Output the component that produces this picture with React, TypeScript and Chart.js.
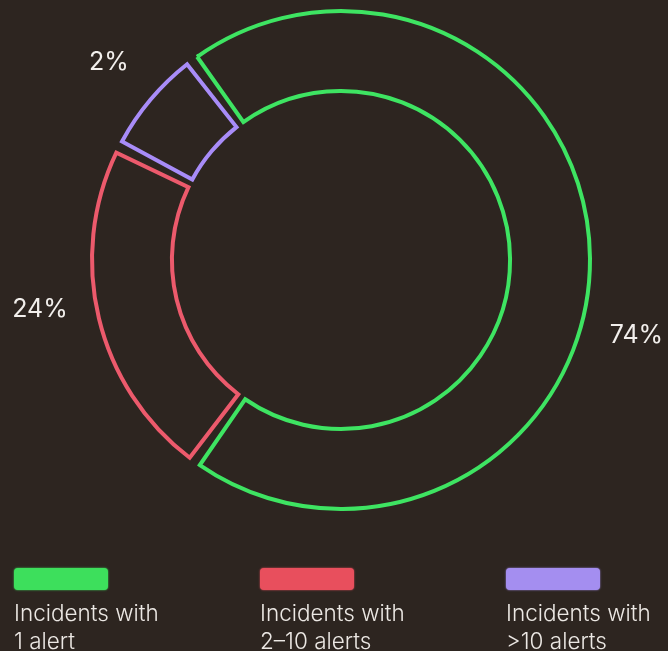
import React, { useEffect, useRef } from "react";
import { Chart, registerables } from "chart.js";

Chart.register(...registerables);

// Categories / legend text
const categories = ["Incidents with 1 alert", "Incidents with 2–10 alerts", "Incidents with >10 alerts"];
const legendFirstLines = ["Incidents with", "Incidents with", "Incidents with"];
const legendSecondLines = ["1 alert", "2–10 alerts", ">10 alerts"];

// Percent values printed in the chart
const percentValues = [74, 24, 2];
// Arc shares as drawn in the picture (the artwork is not drawn to scale)
const arcShares = [69.4, 21.7, 6.5];
// Empty share drawn after each arc (the gap between segments)
const gapShare = 0.8;

const lineColors = ["#3ee462", "#ec5a6c", "#a88cf8"];
const swatchColors = ["#3ddf5c", "#e84f5d", "#a48ef0"];
const labelAngleShift = [14.8, 4.2, 0.3];

const FONT = "Inter, 'Open Sans', 'Noto Sans', sans-serif";
const CLEAR = "rgba(0,0,0,0)";

const chartData: number[] = [];
const chartBorders: string[] = [];
const chartBorderWidths: number[] = [];
arcShares.forEach((v, i) => {
  chartData.push(v, gapShare);
  chartBorders.push(lineColors[i], CLEAR);
  chartBorderWidths.push(4, 0);
});

const labelPlugin = {
  id: "pctLabels",
  afterDatasetsDraw(chart: any) {
    const meta = chart.getDatasetMeta(0);
    const ctx = chart.ctx;
    ctx.save();
    ctx.fillStyle = "#f2efec";
    ctx.font = `400 25px ${FONT}`;
    ctx.textAlign = "center";
    ctx.textBaseline = "middle";
    percentValues.forEach((v, i) => {
      const arc = meta.data[i * 2];
      const p = arc.getProps(["x", "y", "startAngle", "endAngle", "outerRadius"], true);
      const mid = (p.startAngle + p.endAngle) / 2 + (labelAngleShift[i] * Math.PI) / 180;
      const r = p.outerRadius + 56;
      ctx.fillText(`${v}%`, p.x + Math.cos(mid) * r, p.y + Math.sin(mid) * r);
    });
    ctx.restore();
  },
};

export default function App() {
  const ref = useRef<HTMLCanvasElement | null>(null);

  useEffect(() => {
    if (!ref.current) return;
    const chart = new Chart(ref.current, {
      type: "doughnut",
      data: {
        labels: chartData.map((_, i) => (i % 2 === 0 ? categories[i / 2] : "")),
        datasets: [
          {
            data: chartData,
            backgroundColor: CLEAR,
            borderColor: chartBorders,
            borderWidth: chartBorderWidths,
            borderJoinStyle: "miter",
            radius: 249,
            cutout: "67.9%",
            hoverOffset: 0,
          } as any,
        ],
      },
      options: {
        responsive: false,
        animation: false,
        rotation: -35.3,
        layout: { padding: { left: 14, right: 0, top: 0, bottom: 131 } },
        plugins: {
          legend: { display: false },
          tooltip: { enabled: false },
        },
        events: [],
      } as any,
      plugins: [labelPlugin],
    });
    return () => chart.destroy();
  }, []);

  return (
    <div
      style={{
        position: "fixed",
        left: 0,
        top: 0,
        width: 668,
        height: 651,
        background: "#2d2520",
        overflow: "hidden",
        fontFamily: FONT,
      }}
    >
      <canvas ref={ref} width={668} height={651} style={{ position: "absolute", left: 0, top: 0, display: "block" }} />
      {categories.map((c, i) => (
        <div key={c} style={{ position: "absolute", left: 14 + i * 246, top: 568 }}>
          <div
            style={{
              width: 94,
              height: 22,
              borderRadius: 4,
              background: swatchColors[i],
              boxShadow: `0 0 2px ${swatchColors[i]}`,
            }}
          />
          <div
            style={{
              marginTop: 9,
              color: "#ece8e4",
              fontSize: 22.5,
              fontWeight: 300,
              lineHeight: "28px",
              whiteSpace: "nowrap",
            }}
          >
            <div>{legendFirstLines[i]}</div>
            <div>{legendSecondLines[i]}</div>
          </div>
        </div>
      ))}
    </div>
  );
}
